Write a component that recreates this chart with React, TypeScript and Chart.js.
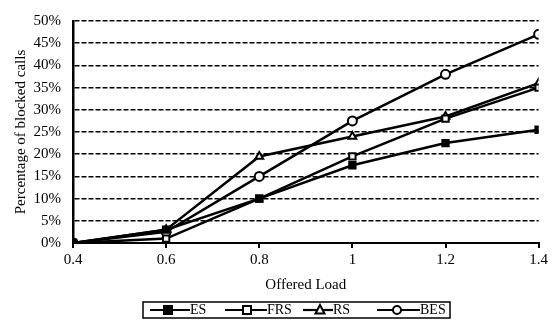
import React, { useEffect, useRef } from "react";
import { Chart, registerables } from "chart.js";

Chart.register(...registerables);

const loads = [0.4, 0.6, 0.8, 1.0, 1.2, 1.4];
const esValues = [0, 3, 10, 17.5, 22.5, 25.5];
const frsValues = [0, 1, 10, 19.5, 28, 35];
const rsValues = [0, 3, 19.5, 24, 28.5, 36];
const besValues = [0, 2.5, 15, 27.5, 38, 47];
const seriesNames = ["ES", "FRS", "RS", "BES"];
const yTickLabels = ["0%", "5%", "10%", "15%", "20%", "25%", "30%", "35%", "40%", "45%", "50%"];
const xTickLabels = ["0.4", "0.6", "0.8", "1", "1.2", "1.4"];

const FONT = "'Liberation Serif', 'Times New Roman', serif";

const legendPlugin = {
  id: "boxLegend",
  afterDraw(chart: any) {
    const ctx = chart.ctx;
    const boxL = 143, boxT = 302, boxW = 307, boxH = 16;
    ctx.save();
    ctx.strokeStyle = "#000";
    ctx.lineWidth = 1.5;
    ctx.strokeRect(boxL, boxT, boxW, boxH);
    const cy = boxT + boxH / 2;
    const entries = [
      { x0: 150, mx: 168, x1: 190 },
      { x0: 225, mx: 247, x1: 267 },
      { x0: 303, mx: 320, x1: 333 },
      { x0: 377, mx: 397, x1: 420 },
    ];
    chart.data.datasets.forEach((ds: any, i: number) => {
      const e = entries[i];
      ctx.strokeStyle = "#000";
      ctx.lineWidth = 2.2;
      ctx.beginPath();
      ctx.moveTo(e.x0, cy);
      ctx.lineTo(e.x1, cy);
      ctx.stroke();
      const mx = e.mx;
      ctx.lineWidth = 2;
      ctx.fillStyle = ds.pointBackgroundColor;
      const r = 4;
      ctx.beginPath();
      if (ds.pointStyle === "rect") {
        ctx.rect(mx - r, cy - r, 2 * r, 2 * r);
      } else if (ds.pointStyle === "triangle") {
        ctx.moveTo(mx, cy - r - 1);
        ctx.lineTo(mx + r + 0.5, cy + r - 0.5);
        ctx.lineTo(mx - r - 0.5, cy + r - 0.5);
        ctx.closePath();
      } else {
        ctx.arc(mx, cy, r, 0, Math.PI * 2);
      }
      ctx.fill();
      ctx.stroke();
      ctx.fillStyle = "#000";
      ctx.font = `14px ${FONT}`;
      ctx.textBaseline = "middle";
      ctx.textAlign = "left";
      ctx.fillText(seriesNames[i], e.x1, cy + 0.5);
    });
    ctx.restore();
  },
};

function toPts(vals: number[]) {
  return vals.map((v, i) => ({ x: loads[i], y: v }));
}

export default function App() {
  const ref = useRef<HTMLCanvasElement | null>(null);
  useEffect(() => {
    if (!ref.current) return;
    const mk = (label: string, vals: number[], style: string, bg: string) => ({
      label,
      data: toPts(vals),
      borderColor: "#000",
      borderWidth: 2.5,
      pointStyle: style,
      pointRadius: 4.5,
      pointBorderWidth: 2,
      pointBackgroundColor: bg,
      pointBorderColor: "#000",
      tension: 0,
    });
    const chart = new Chart(ref.current, {
      type: "line",
      data: {
        datasets: [
          mk(seriesNames[0], esValues, "rect", "#000"),
          mk(seriesNames[1], frsValues, "rect", "#fff"),
          mk(seriesNames[2], rsValues, "triangle", "#fff"),
          mk(seriesNames[3], besValues, "circle", "#fff"),
        ],
      },
      options: {
        animation: false,
        responsive: false,
        maintainAspectRatio: false,
        layout: { padding: { left: 0, right: 8, top: 19, bottom: 30 } },
        plugins: { legend: { display: false }, tooltip: { enabled: false } },
        scales: {
          x: {
            type: "linear",
            min: 0.4,
            max: 1.4,
            afterFit: (s: any) => { s.height = 54; },
            ticks: {
              stepSize: 0.2,
              color: "#000",
              font: { family: FONT, size: 15 },
              padding: 3,
              callback: (v: any) => {
                const idx = Math.round((Number(v) - 0.4) / 0.2);
                return xTickLabels[idx] ?? "";
              },
            },
            grid: { display: true, drawOnChartArea: false, drawTicks: true, tickLength: 5, color: "#000", lineWidth: 2 },
            border: { display: true, color: "#000", width: 2 },
            title: { display: true, text: "Offered Load", color: "#000", font: { family: FONT, size: 15 }, padding: { top: 4, bottom: 3 } },
          },
          y: {
            min: 0,
            max: 50,
            afterFit: (s: any) => { s.width = 73; },
            ticks: {
              stepSize: 5,
              color: "#000",
              font: { family: FONT, size: 15 },
              padding: 12,
              callback: (v: any) => yTickLabels[Math.round(Number(v) / 5)] ?? "",
            },
            grid: { color: "#000", lineWidth: 1.6, drawTicks: false },
            border: { display: true, color: "#000", width: 2.5, dash: [5, 2] },
            title: { display: true, text: "Percentage of blocked calls", color: "#000", font: { family: FONT, size: 15 }, padding: { top: 12, bottom: 12 } },
          },
        },
      } as any,
      plugins: [legendPlugin],
    });
    return () => chart.destroy();
  }, []);
  return (
    <div style={{ position: "fixed", left: 0, top: 0, width: 551, height: 327, background: "#fff" }}>
      <canvas ref={ref} width={551} height={327} style={{ width: 551, height: 327 }} />
    </div>
  );
}
